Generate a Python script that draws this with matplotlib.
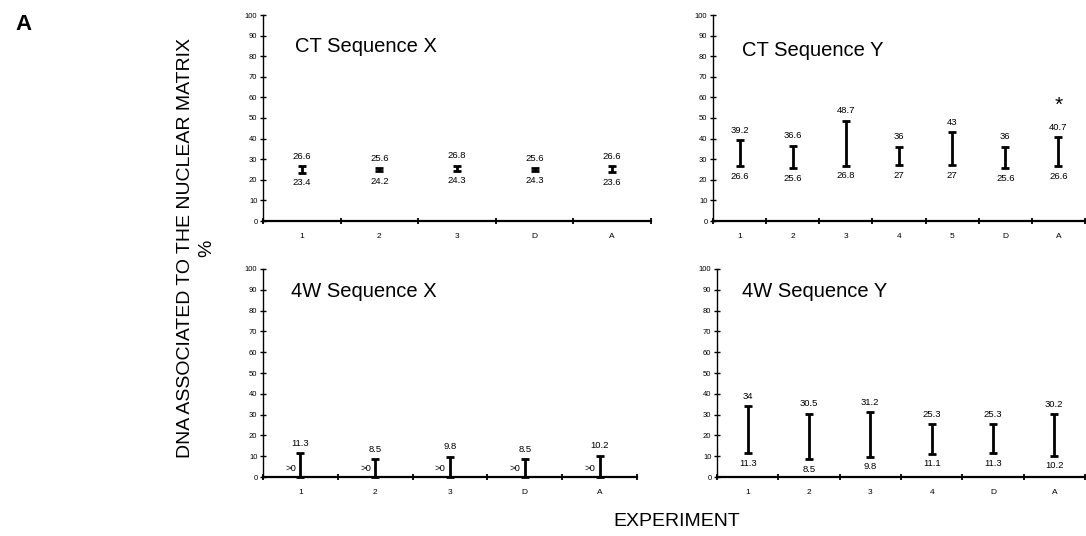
import matplotlib
matplotlib.use("Agg")
import matplotlib.pyplot as plt

plt.rcParams['font.family'] = ['Liberation Sans', 'DejaVu Sans']

# ---- data ----
ctx_cats = ["1", "2", "3", "D", "A"]
ctx_hi = [26.6, 25.6, 26.8, 25.6, 26.6]
ctx_lo = [23.4, 24.2, 24.3, 24.3, 23.6]

cty_cats = ["1", "2", "3", "4", "5", "D", "A"]
cty_hi = [39.2, 36.6, 48.7, 36, 43, 36, 40.7]
cty_lo = [26.6, 25.6, 26.8, 27, 27, 25.6, 26.6]

wx_cats = ["1", "2", "3", "D", "A"]
wx_hi = [11.3, 8.5, 9.8, 8.5, 10.2]
wx_lo = [0, 0, 0, 0, 0]

wy_cats = ["1", "2", "3", "4", "D", "A"]
wy_hi = [34, 30.5, 31.2, 25.3, 25.3, 30.2]
wy_lo = [11.3, 8.5, 9.8, 11.1, 11.3, 10.2]

titles = ["CT Sequence X", "CT Sequence Y", "4W Sequence X", "4W Sequence Y"]

fig = plt.figure(figsize=(10.86, 5.36), dpi=100)

W, H = 1086, 536
def rect(l, r, t, b):
    return [l / W, 1 - b / H, (r - l) / W, (b - t) / H]

axes = [
    fig.add_axes(rect(263, 651, 15, 221)),
    fig.add_axes(rect(713, 1085, 15, 221)),
    fig.add_axes(rect(263, 637, 269, 477)),
    fig.add_axes(rect(717, 1085, 269, 477)),
]

panels = [
    (ctx_cats, ctx_hi, ctx_lo, False),
    (cty_cats, cty_hi, cty_lo, False),
    (wx_cats, wx_hi, wx_lo, True),
    (wy_cats, wy_hi, wy_lo, False),
]
title_pos = [(0.082, 0.845), (0.078, 0.83), (0.075, 0.89), (0.068, 0.89)]

for ax, (cats, hi, lo, gt0), title, tp in zip(axes, panels, titles, title_pos):
    n = len(cats)
    xs = [i + 0.5 for i in range(n)]
    mids = [(h + l) / 2 for h, l in zip(hi, lo)]
    err = [[m - l for m, l in zip(mids, lo)], [h - m for h, m in zip(hi, mids)]]
    ax.errorbar(xs, mids, yerr=err, fmt='none', ecolor='black',
                elinewidth=2.0, capsize=2.8, capthick=2.0, clip_on=False, zorder=3)
    for x, h, l in zip(xs, hi, lo):
        ax.annotate(f"{h:g}", (x, h), xytext=(0, 4), textcoords='offset points',
                    ha='center', va='bottom', fontsize=6.8)
        if gt0:
            ax.annotate(">0", (x, 4.3), xytext=(-3, 0), textcoords='offset points',
                        ha='right', va='center', fontsize=6.8)
        else:
            ax.annotate(f"{l:g}", (x, l), xytext=(0, -4), textcoords='offset points',
                        ha='center', va='top', fontsize=6.8)
    ax.set_xlim(0, n)
    ax.set_ylim(0, 100)
    ax.set_yticks(range(0, 101, 10))
    ax.set_xticks(range(0, n + 1))
    ax.set_xticklabels([])
    ax.set_xticks(xs, minor=True)
    ax.set_xticklabels(cats, minor=True)
    ax.tick_params(axis='x', which='minor', length=0, labelsize=6, pad=9)
    ax.tick_params(axis='x', which='major', direction='inout', length=5, width=1.3)
    ax.tick_params(axis='y', direction='inout', length=4, width=1.0, labelsize=5.5, pad=2)
    for s in ('top', 'right'):
        ax.spines[s].set_visible(False)
    ax.spines['bottom'].set_linewidth(1.6)
    ax.spines['left'].set_linewidth(1.0)
    ax.patch.set_alpha(0)
    ax.text(tp[0], tp[1], title, transform=ax.transAxes, fontsize=14.5,
            ha='left', va='center')

# asterisk above A in CT Sequence Y
axes[1].text(len(cty_cats) - 0.5, 56, "*", ha='center', va='center', fontsize=15)

fig.text(196 / W, 1 - 248 / H, "DNA ASSOCIATED TO THE NUCLEAR MATRIX\n%",
         rotation=90, ha='center', va='center', multialignment='center',
         fontsize=14, linespacing=1.3)
fig.text(677 / W, 1 - 522 / H, "EXPERIMENT", ha='center', va='center', fontsize=14)
fig.text(23 / W, 1 - 25 / H, "A", ha='center', va='center', fontsize=16, fontweight='bold')

fig.savefig("out.png", dpi=100)
